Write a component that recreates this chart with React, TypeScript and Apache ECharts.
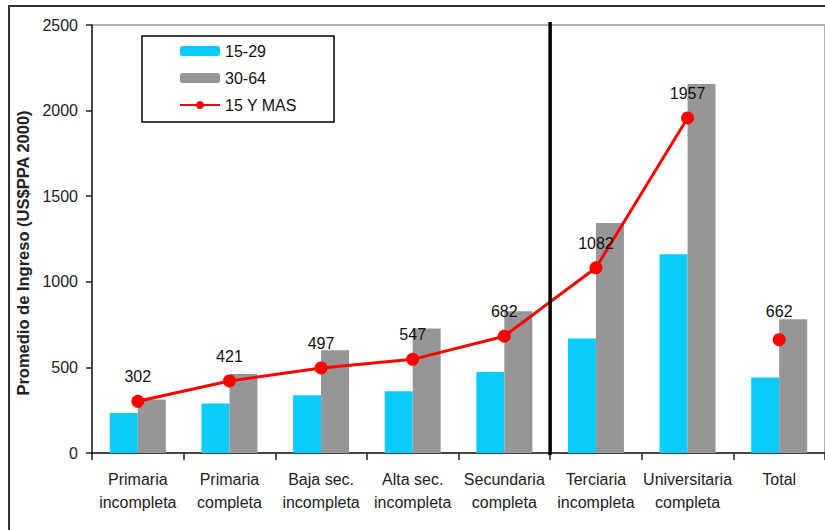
import React, { useEffect, useRef } from "react";
import * as echarts from "echarts";

const categories = [
  "Primaria\nincompleta",
  "Primaria\ncompleta",
  "Baja sec.\nincompleta",
  "Alta sec.\nincompleta",
  "Secundaria\ncompleta",
  "Terciaria\nincompleta",
  "Universitaria\ncompleta",
  "Total",
];
const age15to29 = [234, 289, 337, 361, 473, 669, 1161, 441];
const age30to64 = [312, 462, 600, 727, 828, 1343, 2155, 781];
const age15plus: (number | string)[] = [302, 421, 497, 547, 682, 1082, 1957, "-"];
const age15plusTotal: (number | string)[] = ["-", "-", "-", "-", "-", "-", "-", 662];
const seriesNames = ["15-29", "30-64", "15 Y MAS"];
const yAxisName = "Promedio de Ingreso (US$PPA 2000)";
const separatorAfterIndex = 4;

const FONT = "'Liberation Sans', Arial, sans-serif";

export default function App() {
  const ref = useRef<HTMLDivElement>(null);
  useEffect(() => {
    if (!ref.current) return;
    const chart = echarts.init(ref.current, undefined, { renderer: "svg" });
    const labelStyle = {
      show: true,
      position: "top" as const,
      distance: 10,
      fontSize: 16,
      color: "#111",
      fontFamily: FONT,
    };
    chart.setOption({
      animation: false,
      backgroundColor: "#fff",
      textStyle: { fontFamily: FONT },
      grid: {
        left: 92,
        right: -10,
        top: 25,
        bottom: 77,
        show: true,
        borderColor: "#999",
        borderWidth: 1.5,
        backgroundColor: "transparent",
      },
      legend: {
        data: seriesNames,
        orient: "vertical",
        left: 142,
        top: 36,
        itemWidth: 40,
        itemHeight: 10,
        itemGap: 11,
        itemTextGap: 3,
        padding: [7, 37, 9, 37],
        borderColor: "#000",
        borderWidth: 1.5,
        backgroundColor: "#fff",
        textStyle: { fontSize: 16, color: "#111", fontFamily: FONT },
      },
      xAxis: {
        type: "category",
        data: categories,
        axisLine: { lineStyle: { color: "#222", width: 1.5 } },
        axisTick: { show: true, length: 7, lineStyle: { color: "#222", width: 1.5 } },
        axisLabel: {
          fontSize: 16,
          color: "#222",
          lineHeight: 23,
          margin: 15,
          interval: 0,
          fontFamily: FONT,
        },
        splitLine: { show: false },
      },
      yAxis: {
        type: "value",
        min: 0,
        max: 2500,
        interval: 500,
        name: yAxisName,
        nameLocation: "middle",
        nameGap: 55,
        nameTextStyle: {
          fontSize: 16.5,
          fontWeight: "bold",
          color: "#222",
          fontFamily: FONT,
          padding: [0, 28, 0, 0],
        },
        axisLine: { show: true, lineStyle: { color: "#222", width: 1.5 } },
        axisTick: { show: true, length: 6, lineStyle: { color: "#222", width: 1.5 } },
        axisLabel: {
          fontSize: 16,
          color: "#222",
          margin: 14,
          fontFamily: FONT,
          formatter: (v: number) => String(v),
        },
        splitLine: { show: false },
      },
      series: [
        {
          name: seriesNames[0],
          type: "bar",
          data: age15to29,
          barWidth: 28,
          barGap: "0%",
          itemStyle: { color: "#0ACBFA" },
        },
        {
          name: seriesNames[1],
          type: "bar",
          data: age30to64,
          barWidth: 28,
          barGap: "0%",
          itemStyle: { color: "#969696" },
        },
        {
          name: seriesNames[2],
          type: "line",
          data: age15plus,
          symbol: "circle",
          symbolSize: 13,
          lineStyle: { color: "#FF0000", width: 3 },
          itemStyle: { color: "#FF0000" },
          label: labelStyle,
          z: 5,
        },
        {
          name: "Total 15 Y MAS",
          type: "scatter",
          data: age15plusTotal,
          symbol: "circle",
          symbolSize: 13,
          itemStyle: { color: "#FF0000", opacity: 1 },
          label: { ...labelStyle, distance: 14 },
          z: 5,
        },
      ],
    });
    const xa = chart.convertToPixel({ xAxisIndex: 0 }, separatorAfterIndex) as number;
    const xb = chart.convertToPixel({ xAxisIndex: 0 }, separatorAfterIndex + 1) as number;
    const yTop = chart.convertToPixel({ yAxisIndex: 0 }, 2500) as number;
    const yBot = chart.convertToPixel({ yAxisIndex: 0 }, 0) as number;
    const sx = (xa + xb) / 2;
    chart.setOption({
      graphic: [
        {
          type: "rect",
          shape: { x: 9, y: 6, width: 1000, height: 1000 },
          style: { fill: "none", stroke: "#333", lineWidth: 2 },
          silent: true,
        },
        {
          type: "line",
          shape: { x1: sx, y1: yTop - 3, x2: sx, y2: yBot + 2 },
          style: { stroke: "#000", lineWidth: 3.5 },
          z: 10,
          silent: true,
        },
      ],
    });
    return () => chart.dispose();
  }, []);
  return (
    <div
      ref={ref}
      style={{ position: "fixed", left: 0, top: 0, width: 825, height: 530 }}
    />
  );
}
